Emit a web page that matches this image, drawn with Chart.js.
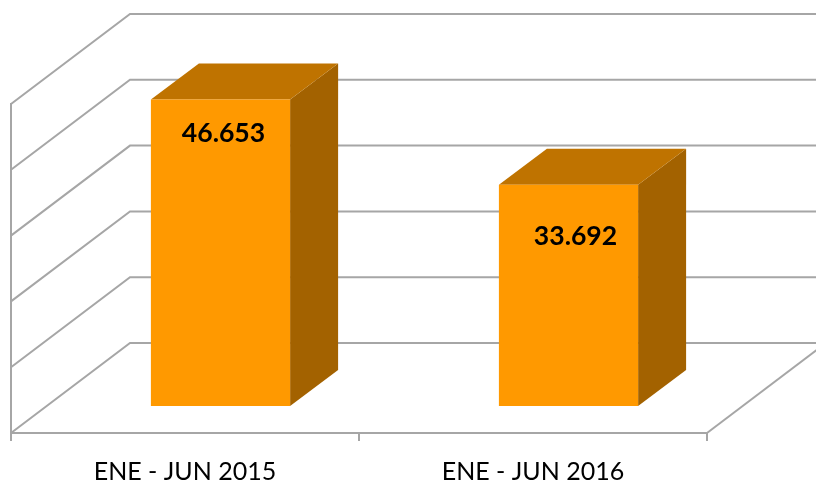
<!DOCTYPE html>
<html>
<head>
<meta charset="utf-8">
<style>html,body{margin:0;padding:0;background:#fff}canvas{display:block}</style>
<script src="https://cdn.jsdelivr.net/npm/chart.js@4/dist/chart.umd.js"></script>
</head>
<body>
<canvas id="c" width="816" height="483"></canvas>
<script>
const categories = ["ENE - JUN 2015", "ENE - JUN 2016"];
const seriesValues = [46653, 33692];
const axisMax = 50000;
const axisStep = 10000;

const GRID = "#a6a6a6";
const FRONT = "#ff9900", TOP = "#bf7300", SIDE = "#a36200";
const WALL_DX = 119, WALL_DY = 90;      // depth of the floor
const GAP_DX = 35.5, GAP_DY = 26.5;     // bar's distance from the front edge
const BAR_DX = 48, BAR_DY = 36;         // bar's own depth
const labelNudge = [{x: 3, y: 34}, {x: 7, y: 52}];

function fmt(v){ return String(v).replace(/\B(?=(\d{3})+$)/g, "."); }

const box3d = {
  id: "box3d",
  beforeDatasetsDraw(chart){
    const {ctx, scales:{x, y}} = chart;
    ctx.save();
    ctx.strokeStyle = GRID; ctx.lineWidth = 2;
    for (const t of y.ticks){
      const py = y.getPixelForValue(t.value);
      ctx.beginPath();
      ctx.moveTo(x.left, py);
      ctx.lineTo(x.left + WALL_DX, py - WALL_DY);
      ctx.lineTo(x.right + WALL_DX, py - WALL_DY);
      ctx.stroke();
    }
    const by = y.getPixelForValue(0);
    ctx.beginPath();
    ctx.moveTo(x.right, by);
    ctx.lineTo(x.right + WALL_DX, by - WALL_DY);
    ctx.stroke();
    ctx.restore();
  },
  beforeDatasetDraw(chart, args){
    const {ctx} = chart;
    const bars = chart.getDatasetMeta(args.index).data;
    ctx.save();
    ctx.translate(GAP_DX, -GAP_DY);
    for (const b of bars){
      const l = b.x - b.width/2, r = b.x + b.width/2, t = b.y, u = b.base;
      ctx.fillStyle = SIDE;
      ctx.beginPath();
      ctx.moveTo(r, t); ctx.lineTo(r + BAR_DX, t - BAR_DY);
      ctx.lineTo(r + BAR_DX, u - BAR_DY); ctx.lineTo(r, u);
      ctx.closePath(); ctx.fill();
      ctx.fillStyle = TOP;
      ctx.beginPath();
      ctx.moveTo(l, t); ctx.lineTo(l + BAR_DX, t - BAR_DY);
      ctx.lineTo(r + BAR_DX, t - BAR_DY); ctx.lineTo(r, t);
      ctx.closePath(); ctx.fill();
    }
  },
  afterDatasetDraw(chart){ chart.ctx.restore(); },
  afterDatasetsDraw(chart){
    const {ctx} = chart;
    const bars = chart.getDatasetMeta(0).data;
    ctx.save();
    ctx.fillStyle = "#000";
    ctx.font = "bold 26.6px Lato";
    ctx.textAlign = "center";
    ctx.textBaseline = "middle";
    bars.forEach((b, i) => {
      ctx.fillText(fmt(seriesValues[i]),
        b.x + GAP_DX + labelNudge[i].x,
        b.y - GAP_DY + labelNudge[i].y);
    });
    ctx.restore();
  }
};

new Chart(document.getElementById("c"), {
  type: "bar",
  data: {
    labels: categories,
    datasets: [{data: seriesValues, backgroundColor: FRONT, borderWidth: 0,
                 barPercentage: 0.4, categoryPercentage: 1}]
  },
  plugins: [box3d],
  options: {
    responsive: false,
    animation: false,
    events: [],
    layout: {padding: {left: 11, right: 109, top: 104, bottom: 0}},
    plugins: {legend: {display: false}, tooltip: {enabled: false}, title: {display: false}},
    scales: {
      x: {
        grid: {display: true, drawOnChartArea: false, drawTicks: true, tickLength: 8,
               color: GRID, lineWidth: 2, offset: true},
        border: {display: true, color: GRID, width: 2},
        ticks: {color: "#000", font: {family: "Lato", size: 25}, padding: 16, maxRotation: 0},
        afterFit(s){ s.height = 50; }
      },
      y: {
        min: 0, max: axisMax,
        grid: {display: true, drawOnChartArea: false, drawTicks: false},
        border: {display: true, color: GRID, width: 2},
        ticks: {display: false, stepSize: axisStep},
        afterFit(s){ s.width = 0; }
      }
    }
  }
});
</script>
</body>
</html>
